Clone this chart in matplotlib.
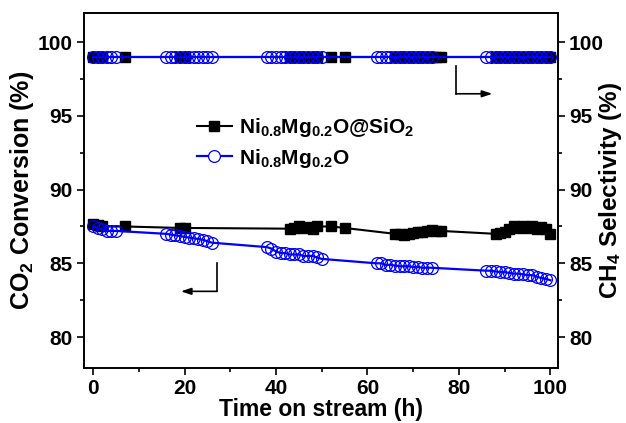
import matplotlib
matplotlib.use('Agg')
import matplotlib.pyplot as plt
from matplotlib.lines import Line2D
from matplotlib.ticker import MultipleLocator

plt.rcParams['font.family'] = ['Liberation Sans', 'DejaVu Sans']
plt.rcParams['font.weight'] = 'bold'
plt.rcParams['mathtext.fontset'] = 'custom'
plt.rcParams['mathtext.rm'] = 'Liberation Sans:bold'
plt.rcParams['mathtext.bf'] = 'Liberation Sans:bold'
plt.rcParams['mathtext.default'] = 'rm'

# Ni0.8Mg0.2O@SiO2 : time on stream (h), CO2 conversion (%), CH4 selectivity (%)
t_sio2 = [0, 1, 2, 7, 19, 20, 43, 44, 45, 46, 47, 48, 49, 52, 55,
          66, 67, 68, 69, 70, 71, 72, 73, 74, 75, 76,
          88, 89, 90, 91, 92, 93, 94, 95, 96, 97, 98, 99, 100]
conv_sio2 = [87.7, 87.6, 87.5, 87.5, 87.4, 87.4, 87.35, 87.4, 87.5, 87.4, 87.45, 87.35, 87.5, 87.5, 87.4,
             87.0, 87.0, 86.95, 87.0, 87.05, 87.1, 87.1, 87.2, 87.25, 87.2, 87.2,
             87.0, 87.05, 87.1, 87.3, 87.5, 87.4, 87.55, 87.4, 87.5, 87.35, 87.45, 87.3, 87.0]
sel_sio2 = [99.0, 99.0, 99.0, 99.0, 99.0, 99.0, 99.0, 99.0, 99.0, 99.0, 99.0, 99.0, 99.0, 99.0, 99.0,
            99.0, 99.0, 99.0, 99.0, 99.0, 99.0, 99.0, 99.0, 99.0, 99.0, 99.0,
            99.0, 99.0, 99.0, 99.0, 99.0, 99.0, 99.0, 99.0, 99.0, 99.0, 99.0, 99.0, 99.0]

# Ni0.8Mg0.2O
t_bare = [0, 1, 2, 3, 4, 5,
          16, 17, 18, 19, 20, 21, 22, 23, 24, 25, 26,
          38, 39, 40, 41, 42, 43, 44, 45, 46, 47, 48, 49, 50,
          62, 63, 64, 65, 66, 67, 68, 69, 70, 71, 72, 73, 74,
          86, 87, 88, 89, 90, 91, 92, 93, 94, 95, 96, 97, 98, 99, 100]
conv_bare = [87.5, 87.4, 87.3, 87.2, 87.2, 87.2,
             87.0, 86.95, 86.9, 86.85, 86.8, 86.75, 86.7, 86.65, 86.6, 86.5, 86.4,
             86.1, 86.0, 85.8, 85.7, 85.7, 85.6, 85.6, 85.6, 85.5, 85.5, 85.5, 85.4, 85.3,
             85.0, 85.0, 84.9, 84.9, 84.85, 84.8, 84.8, 84.8, 84.75, 84.75, 84.7, 84.7, 84.7,
             84.5, 84.5, 84.45, 84.4, 84.4, 84.35, 84.3, 84.3, 84.25, 84.2, 84.2, 84.1, 84.0, 83.95, 83.85]
sel_bare = [99.0, 99.0, 99.0, 99.0, 99.0, 99.0,
            99.0, 99.0, 99.0, 99.0, 99.0, 99.0, 99.0, 99.0, 99.0, 99.0, 99.0,
            99.0, 99.0, 99.0, 99.0, 99.0, 99.0, 99.0, 99.0, 99.0, 99.0, 99.0, 99.0, 99.0,
            99.0, 99.0, 99.0, 99.0, 99.0, 99.0, 99.0, 99.0, 99.0, 99.0, 99.0, 99.0, 99.0,
            99.0, 99.0, 99.0, 99.0, 99.0, 99.0, 99.0, 99.0, 99.0, 99.0, 99.0, 99.0, 99.0, 99.0, 99.0]

label_sio2 = 'Ni$_{0.8}$Mg$_{0.2}$O@SiO$_2$'
label_bare = 'Ni$_{0.8}$Mg$_{0.2}$O'

fig = plt.figure(figsize=(6.26, 4.23), dpi=100)
ax = fig.add_axes([0.134, 0.13, 0.757, 0.84])

sq = dict(color='black', marker='s', markersize=7, lw=1.5, mec='black', mfc='black')
ci = dict(color='blue', marker='o', markersize=8.5, lw=1.6, mec='blue', mfc='none', mew=0.9)

ax.plot(t_sio2, conv_sio2, **sq)
ax.plot(t_bare, conv_bare, **ci)
ax.plot(t_sio2, sel_sio2, **sq)
ax.plot(t_bare, sel_bare, **ci)

ax.set_xlim(-2, 101.6)
ax.set_ylim(77.9, 102)
ax.xaxis.set_major_locator(MultipleLocator(20))
ax.xaxis.set_minor_locator(MultipleLocator(10))
ax.yaxis.set_major_locator(MultipleLocator(5))
ax.yaxis.set_minor_locator(MultipleLocator(2.5))
ax.tick_params(which='both', direction='out', width=1.2, labelsize=15)
ax.tick_params(which='major', length=5, pad=3)
ax.tick_params(which='minor', length=3)
for s in ax.spines.values():
    s.set_linewidth(1.2)

ax.set_xlabel('Time on stream (h)', fontsize=16.5, fontweight='bold', labelpad=0)
ax.set_ylabel('CO$_2$ Conversion (%)', fontsize=18, fontweight='bold', labelpad=1)

ax2 = ax.twinx()
ax2.set_ylim(77.9, 102)
ax2.yaxis.set_major_locator(MultipleLocator(5))
ax2.yaxis.set_minor_locator(MultipleLocator(2.5))
ax2.tick_params(which='both', direction='out', width=1.2, labelsize=15)
ax2.tick_params(which='major', length=5, pad=3)
ax2.tick_params(which='minor', length=3)
ax2.set_ylabel('CH$_4$ Selectivity (%)', fontsize=17.5, fontweight='bold')
ax2.yaxis.set_label_coords(1.082, 0.5)
for s in ax2.spines.values():
    s.set_linewidth(1.2)

# arrows pointing to the axis each series belongs to
arrow = dict(arrowstyle='-|>,head_length=0.6,head_width=0.2', color='black', lw=1.2,
             shrinkA=0, shrinkB=0)
ax.plot([27.1, 27.1], [85.0, 83.1], color='black', lw=1.2)
ax.annotate('', xy=(19.2, 83.1), xytext=(27.1, 83.1), arrowprops=arrow)
ax.plot([79.4, 79.4], [98.4, 96.5], color='black', lw=1.2)
ax.annotate('', xy=(87.3, 96.5), xytext=(79.4, 96.5), arrowprops=arrow)

handles = [
    Line2D([], [], color='black', marker='s', markersize=7, lw=1.5, mfc='black'),
    Line2D([], [], color='blue', marker='o', markersize=8.5, lw=1.6, mec='blue', mfc='white', mew=0.9),
]
ax.legend(handles, [label_sio2, label_bare], loc='center left', bbox_to_anchor=(0.238, 0.633),
          frameon=False, fontsize=15, handlelength=1.7, handletextpad=0.35,
          labelspacing=0.35, borderpad=0, borderaxespad=0)

fig.savefig('out.png', dpi=100)
